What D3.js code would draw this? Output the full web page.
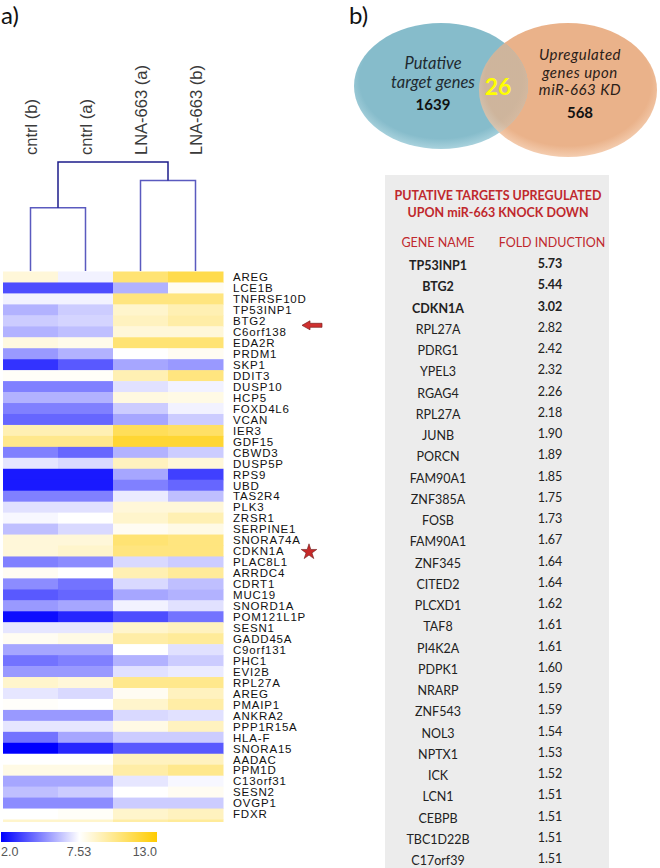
<!DOCTYPE html>
<html><head><meta charset="utf-8">
<script src="https://cdn.jsdelivr.net/npm/d3@7"></script>
<style>body{margin:0;background:#fff}svg{display:block}</style>
</head><body>
<svg id="c" width="660" height="868"></svg>
<script>
// ---------- DATA ----------
const samples = ["cntrl (b)", "cntrl (a)", "LNA-663 (a)", "LNA-663 (b)"];
const genes = ["AREG","LCE1B","TNFRSF10D","TP53INP1","BTG2","C6orf138","EDA2R","PRDM1","SKP1","DDIT3",
  "DUSP10","HCP5","FOXD4L6","VCAN","IER3","GDF15","CBWD3","DUSP5P","RPS9","UBD",
  "TAS2R4","PLK3","ZRSR1","SERPINE1","SNORA74A","CDKN1A","PLAC8L1","ARRDC4","CDRT1","MUC19",
  "SNORD1A","POM121L1P","SESN1","GADD45A","C9orf131","PHC1","EVI2B","RPL27A","AREG","PMAIP1",
  "ANKRA2","PPP1R15A","HLA-F","SNORA15","AADAC","PPM1D","C13orf31","SESN2","OVGP1","FDXR",""];
const cntrlB = [8.35,3.66,7.25,5.87,6.42,5.87,8.19,5.32,3.11,7.69,
  4.77,5.87,4.77,4.21,9.17,9.99,4.77,6.98,2.55,2.55,
  4.77,6.87,7.36,6.15,8.35,8.35,4.77,7.80,5.04,3.94,
  5.32,2.28,6.98,7.80,5.60,4.49,5.32,8.62,6.98,7.64,
  5.32,6.98,4.49,2.00,7.53,8.08,5.60,6.15,5.04,7.53,8.62];
const cntrlA = [7.25,3.66,7.25,6.42,6.59,6.15,7.97,5.87,3.94,7.69,
  4.77,5.87,4.77,4.21,9.17,9.99,4.21,6.70,2.55,2.55,
  4.77,6.87,7.53,6.70,8.35,8.62,5.04,7.53,4.49,4.21,
  5.60,2.83,6.98,8.08,5.60,4.77,5.32,8.35,6.70,7.53,
  5.32,6.98,5.60,2.83,7.53,8.08,5.60,6.42,5.04,7.69,8.62];
const lnaA = [10.54,5.87,10.27,8.62,8.90,8.35,10.54,7.53,5.60,9.17,
  6.87,8.19,6.42,5.60,11.09,11.91,5.87,8.90,5.60,4.77,
  7.09,8.35,8.62,7.80,10.54,10.27,6.70,9.17,6.70,5.60,
  7.25,3.66,8.62,9.44,7.53,5.87,6.87,9.99,7.80,8.62,
  6.70,8.08,6.42,3.94,8.90,9.44,6.98,7.53,6.42,8.62,9.44];
const lnaB = [11.36,7.80,10.27,9.17,9.44,8.35,10.54,7.80,5.32,10.27,
  7.25,8.08,7.25,6.42,10.81,11.91,6.42,8.35,3.38,4.21,
  6.15,8.35,9.17,8.08,10.27,10.27,6.42,9.72,6.15,5.87,
  6.87,4.49,8.90,9.72,6.87,6.42,7.09,9.99,8.90,9.44,
  6.87,8.90,6.42,3.94,8.90,9.99,7.36,7.80,6.42,8.90,9.72];
const colorStops = [2.0, 7.53, 13.0];
const legendLabels = ["2.0", "7.53", "13.0"];
// dendrogram merges (relative heights)
const merges = [
  {id:"c", left:"cntrl (b)", right:"cntrl (a)", h:0.58},
  {id:"l", left:"LNA-663 (a)", right:"LNA-663 (b)", h:0.83},
  {id:"root", left:"c", right:"l", h:1.0}
];
// Venn
const vennLeft = {lines:["Putative","target genes"], count:"1639"};
const vennRight = {lines:["Upregulated","genes upon","miR-663 KD"], count:"568"};
const vennOverlap = "26";
// table
const tableGenes = ["TP53INP1","BTG2","CDKN1A","RPL27A","PDRG1","YPEL3","RGAG4","RPL27A","JUNB","PORCN",
  "FAM90A1","ZNF385A","FOSB","FAM90A1","ZNF345","CITED2","PLCXD1","TAF8","PI4K2A","PDPK1",
  "NRARP","ZNF543","NOL3","NPTX1","ICK","LCN1","CEBPB","TBC1D22B","C17orf39"];
const foldInduction = ["5.73","5.44","3.02","2.82","2.42","2.32","2.26","2.18","1.90","1.89",
  "1.85","1.75","1.73","1.67","1.64","1.64","1.62","1.61","1.61","1.60",
  "1.59","1.59","1.54","1.53","1.52","1.51","1.51","1.51","1.51"];
const boldRows = 3;

// ---------- DRAW ----------
const svg = d3.select("#c");
const defs = svg.append("defs");
const cols = [cntrlB, cntrlA, lnaA, lnaB];

const x = d3.scaleBand().domain(samples).range([3, 223]).padding(0);
const rowH = 10.96;
const y = d3.scaleBand().domain(d3.range(genes.length)).range([271.5, 271.5 + rowH*genes.length]).padding(0);
const color = d3.scaleLinear().domain(colorStops).range(["#0000ff","#ffffff","#ffcc00"]);

svg.append("text").attr("x",1).attr("y",24).text("a)")
  .attr("font-family","Lato, 'Open Sans', sans-serif").attr("font-size",24).attr("fill","#111");
svg.append("text").attr("x",349).attr("y",24).text("b)")
  .attr("font-family","Lato, 'Open Sans', sans-serif").attr("font-size",24).attr("fill","#111");

// clip heatmap
defs.append("clipPath").attr("id","hm").append("rect").attr("x",0).attr("y",271).attr("width",230).attr("height",551);
const cells = [];
samples.forEach((s,ci)=>cols[ci].forEach((v,ri)=>cells.push({s,ri,v})));
svg.append("g").attr("clip-path","url(#hm)").selectAll("rect").data(cells).join("rect")
  .attr("x",d=>x(d.s)).attr("y",d=>y(d.ri)).attr("width",x.bandwidth()+0.5).attr("height",y.bandwidth()+0.5)
  .attr("fill",d=>color(d.v));

// gene labels
svg.append("g").selectAll("text").data(genes).join("text")
  .attr("x",233).attr("y",(d,i)=>y(i)+y.bandwidth()/2+4.3).text(d=>d)
  .attr("font-family","'Liberation Sans', Arial, sans-serif").attr("font-size",11.5).attr("letter-spacing","0.8px")
  .attr("fill","#111");

// column labels
svg.append("g").selectAll("text").data(samples).join("text")
  .attr("transform",d=>`translate(${x(d)+x.bandwidth()/2+6},155) rotate(-90)`).text(d=>d)
  .attr("font-family","'Liberation Sans', Arial, sans-serif").attr("font-size",16.5).attr("fill","#3a3a3a");

// dendrogram
const hy = d3.scaleLinear().domain([0,1]).range([271,162]);
const node = {};
samples.forEach(s=>node[s]={x:x(s)+x.bandwidth()/2, h:0});
merges.forEach(m=>{
  const a=node[m.left], b=node[m.right];
  node[m.id]={x:(a.x+b.x)/2, h:m.h};
  const p = `M${a.x},${hy(a.h)}V${hy(m.h)}H${b.x}V${hy(b.h)}`;
  svg.append("path").attr("d",p).attr("fill","none")
    .attr("stroke", m.id==="root" ? "#1c1c8a" : "#5a5abf").attr("stroke-width",1.5);
});

// arrow near BTG2 and star near CDKN1A
const iB = genes.indexOf("BTG2"), iC = genes.indexOf("CDKN1A");
const ay = y(iB)+y.bandwidth()-1;
svg.append("path").attr("d",`M302,${ay} l8,-4.5 v2.5 h12 v4 h-12 v2.5 z`).attr("fill","#d0302f").attr("stroke","#7a1f1f").attr("stroke-width",0.7);
const star = d3.symbol().type(d3.symbolStar).size(75);
svg.append("path").attr("d",star()).attr("transform",`translate(309,${y(iC)+y.bandwidth()/2+1})`)
  .attr("fill","#c62828").attr("stroke","#6e1b1b").attr("stroke-width",0.6);

// legend
const grad = defs.append("linearGradient").attr("id","lg");
colorStops.forEach(v=>grad.append("stop").attr("offset",(v-2)/11).attr("stop-color",color(v)));
const lx = d3.scaleLinear().domain([2,13]).range([1,157]);
svg.append("rect").attr("x",lx(2)).attr("y",832).attr("width",lx(13)-lx(2)).attr("height",10).attr("fill","url(#lg)");
svg.append("g").selectAll("text").data(legendLabels).join("text")
  .attr("x",(d,i)=> i===1 ? 79 : lx(+d)).attr("y",856)
  .attr("text-anchor",(d,i)=>["start","middle","end"][i]).text(d=>d)
  .attr("font-family","'Liberation Sans', Arial, sans-serif").attr("font-size",12.5).attr("fill","#555");

// Venn
const vg = svg.append("g");
const rgL = defs.append("radialGradient").attr("id","gb").attr("cx","50%").attr("cy","45%").attr("r","55%");
rgL.append("stop").attr("offset","0.85").attr("stop-color","#86bccb");
rgL.append("stop").attr("offset","1").attr("stop-color","#a9d2dd");
const rgR = defs.append("radialGradient").attr("id","go").attr("cx","50%").attr("cy","45%").attr("r","55%");
rgR.append("stop").attr("offset","0.85").attr("stop-color","#eab28a");
rgR.append("stop").attr("offset","1").attr("stop-color","#f4cdb0");
const L = {cx:441, cy:86, rx:87, ry:63}, R = {cx:568, cy:90, rx:89, ry:67};
defs.append("clipPath").attr("id","blueClip").append("ellipse")
  .attr("cx",L.cx).attr("cy",L.cy).attr("rx",L.rx).attr("ry",L.ry);
vg.append("ellipse").attr("cx",R.cx).attr("cy",R.cy).attr("rx",R.rx).attr("ry",R.ry).attr("fill","url(#go)");
vg.append("ellipse").attr("cx",L.cx).attr("cy",L.cy).attr("rx",L.rx).attr("ry",L.ry).attr("fill","url(#gb)");
vg.append("ellipse").attr("clip-path","url(#blueClip)").attr("cx",R.cx).attr("cy",R.cy).attr("rx",R.rx).attr("ry",R.ry)
  .attr("fill","url(#go)").attr("opacity",0.72);
const vf = "Lato, 'Open Sans', sans-serif";
vennLeft.lines.forEach((t,i)=>vg.append("text").attr("x",433).attr("y",69+i*19).attr("text-anchor","middle")
  .attr("font-family",vf).attr("font-style","italic").attr("font-size",16.5).attr("fill","#1e2a30").text(t));
vg.append("text").attr("x",433).attr("y",110).attr("text-anchor","middle").attr("font-family",vf)
  .attr("font-weight","bold").attr("font-size",15).attr("fill","#111").text(vennLeft.count);
vennRight.lines.forEach((t,i)=>vg.append("text").attr("x",580).attr("y",60+i*17.6).attr("text-anchor","middle")
  .attr("font-family",vf).attr("font-style","italic").attr("font-size",15).attr("letter-spacing","0.5px")
  .attr("fill","#2a2018").text(t));
vg.append("text").attr("x",580).attr("y",118).attr("text-anchor","middle").attr("font-family",vf)
  .attr("font-weight","bold").attr("font-size",15).attr("fill","#111").text(vennRight.count);
vg.append("text").attr("x",498).attr("y",95).attr("text-anchor","middle").attr("font-family",vf)
  .attr("font-weight","bold").attr("font-size",23).attr("fill","#ffff00").text(vennOverlap);

// table
const tg = svg.append("g");
tg.append("rect").attr("x",385).attr("y",175).attr("width",224).attr("height",700).attr("fill","#ececec");
const tf = "Lato, 'Open Sans', sans-serif";
["PUTATIVE TARGETS UPREGULATED","UPON miR-663 KNOCK DOWN"].forEach((t,i)=>
  tg.append("text").attr("x",498).attr("y",200+i*17).attr("text-anchor","middle").attr("font-family",tf)
    .attr("font-weight","bold").attr("font-size",12.5).attr("fill","#c0282d").text(t));
tg.append("text").attr("x",438).attr("y",247).attr("text-anchor","middle").attr("font-family",tf)
  .attr("font-size",12.5).attr("fill","#c0282d").text("GENE NAME");
tg.append("text").attr("x",552).attr("y",247).attr("text-anchor","middle").attr("font-family",tf)
  .attr("font-size",12.5).attr("fill","#c0282d").text("FOLD INDUCTION");
const ty = d3.scaleLinear().domain([0, tableGenes.length-1]).range([270, 865]);
tg.selectAll("text.g").data(tableGenes).join("text").attr("class","g")
  .attr("x",438).attr("y",(d,i)=>ty(i)).attr("text-anchor","middle").attr("font-family",tf)
  .attr("font-size",12.5).attr("font-weight",(d,i)=>i<boldRows?"bold":"normal").attr("fill","#222").text(d=>d);
tg.selectAll("text.v").data(foldInduction).join("text").attr("class","v")
  .attr("x",550).attr("y",(d,i)=>ty(i)-2).attr("text-anchor","middle").attr("font-family",tf)
  .attr("font-size",12.5).attr("font-weight",(d,i)=>i<boldRows?"bold":"normal").attr("fill","#222").text(d=>d);
</script>
</body></html>
